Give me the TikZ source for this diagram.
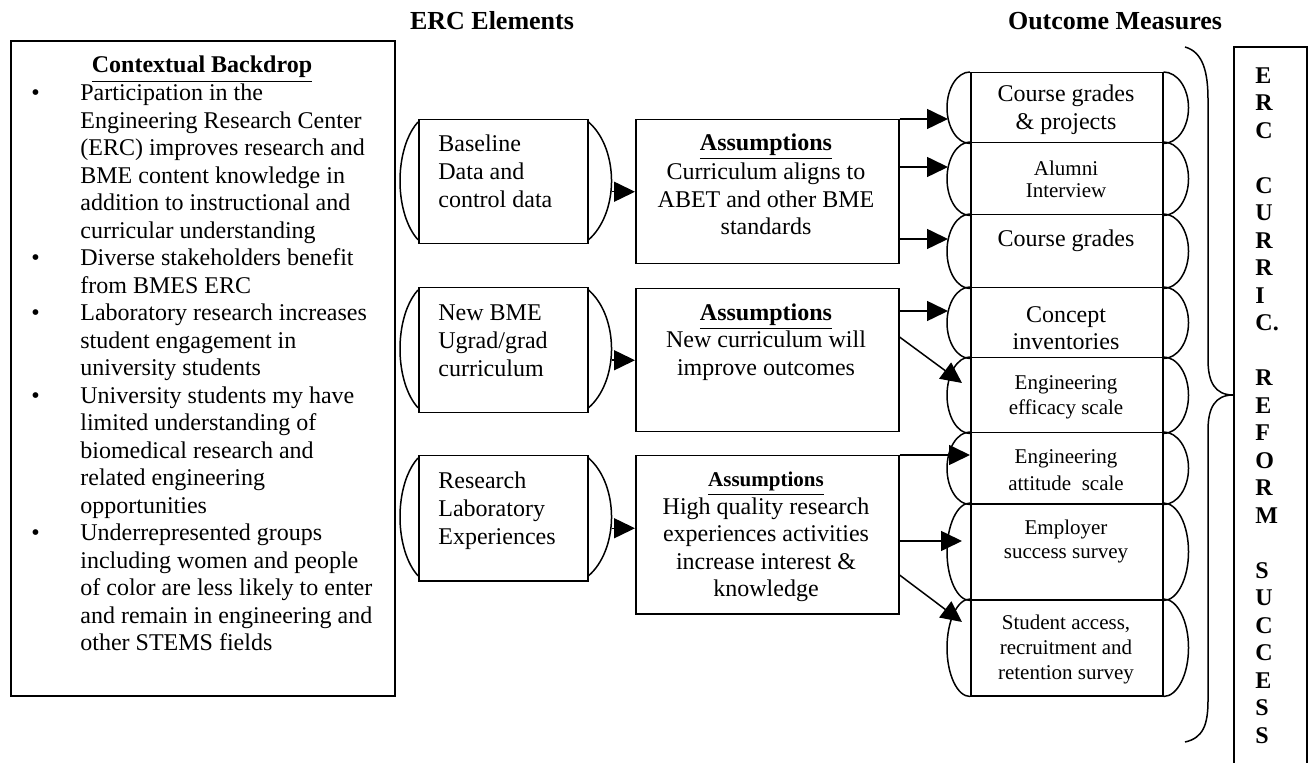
\documentclass[tikz,border=0pt]{standalone}
\usepackage{fontspec}
\setmainfont{Liberation Serif}
\usetikzlibrary{arrows.meta,calc}
\newcommand{\fntbig}{\fontsize{12}{13.75}\selectfont}
\newcommand{\fntsml}{\fontsize{10.5}{12.5}\selectfont}
\begin{document}
\begin{tikzpicture}[x=0.5pt,y=-0.5pt,
  boxline/.style={draw, line width=0.75pt},
  rectbox/.style={boxline, inner sep=0pt, anchor=north west},
  arr/.style={line width=0.75pt, -{Triangle[length=10.5pt,width=10pt]}},
  arcline/.style={line width=0.75pt},
  head/.style={font=\fontsize{13}{15}\bfseries\selectfont, anchor=base},
  bigtxt/.style={font=\fntbig, inner sep=0pt},
  smltxt/.style={font=\fntsml, inner sep=0pt, align=center}
]
\useasboundingbox (0,0) rectangle (1309,763);

% headers
\node[head] (hERC) at (492,30) {ERC Elements};
\node[head] (hOUT) at (1115,30) {Outcome Measures};

% contextual backdrop
\node[rectbox, line width=1.2pt, minimum width=192pt, minimum height=327.5pt] (ctx) at (10,40) {};
\node[font=\fntbig\bfseries, anchor=base] (ctxtitle) at (202,73) {\underline{Contextual Backdrop}};
\node[anchor=north west, inner sep=0pt, font=\fntbig] (ctxlist) at (31,81) {%
\begin{tabular}{@{}p{24.5pt}@{}l@{}}
\textbullet & Participation in the\\
 & Engineering Research Center\\
 & (ERC) improves research and\\
 & BME content knowledge in\\
 & addition to instructional and\\
 & curricular understanding\\
\textbullet & Diverse stakeholders benefit\\
 & from BMES ERC\\
\textbullet & Laboratory research increases\\
 & student engagement in\\
 & university students\\
\textbullet & University students my have\\
 & limited understanding of\\
 & biomedical research and\\
 & related engineering\\
 & opportunities\\
\textbullet & Underrepresented groups\\
 & including women and people\\
 & of color are less likely to enter\\
 & and remain in engineering and\\
 & other STEMS fields
\end{tabular}};

% ERC elements
\node[rectbox, minimum width=84.5pt, minimum height=62pt] (e1) at (418,119) {};
\node[rectbox, minimum width=84.5pt, minimum height=62.5pt] (e2) at (418,287) {};
\node[rectbox, minimum width=84.5pt, minimum height=62.5pt] (e3) at (418,455) {};
\foreach \e in {e1,e2,e3}{
  \draw[arcline] ([yshift=-1.5pt]\e.north west) arc[start angle=120, end angle=240, x radius=18pt, y radius=34pt];
  \draw[arcline] ([yshift=-1.5pt]\e.north east) arc[start angle=60, end angle=-60, x radius=23pt, y radius=34pt];
}
\node[bigtxt, anchor=north west, align=left, font=\fontsize{12}{14}\selectfont] (e1t) at (438,134) {Baseline\\Data and\\control data};
\node[bigtxt, anchor=north west, align=left, font=\fontsize{12}{14}\selectfont] (e2t) at (438,304) {New BME\\Ugrad/grad\\curriculum};
\node[bigtxt, anchor=north west, align=left, font=\fontsize{12}{14}\selectfont] (e3t) at (438,471) {Research\\Laboratory\\Experiences};

% assumptions
\node[rectbox, minimum width=131.5pt, minimum height=72pt] (a1) at (635,119) {};
\node[rectbox, minimum width=131.5pt, minimum height=71.5pt] (a2) at (635,288) {};
\node[rectbox, minimum width=131.5pt, minimum height=79pt] (a3) at (635,455) {};
\node[bigtxt, anchor=north, align=center] (a1t) at (766,133) {\textbf{\underline{Assumptions}}\\[1pt]Curriculum aligns to\\ABET and other BME\\standards};
\node[bigtxt, anchor=north, align=center] (a2t) at (766,303) {\textbf{\underline{Assumptions}}\\[0pt]New curriculum will\\improve outcomes};
\node[bigtxt, anchor=north, align=center] (a3t) at (766,472) {{\fontsize{10.5}{12}\selectfont\textbf{\underline{Assumptions}}}\\High quality research\\experiences activities\\increase interest \&\\knowledge};

% outcome boxes
\node[rectbox, minimum width=96pt, minimum height=35pt] (o1) at (970,72) {};
\node[rectbox, minimum width=96pt, minimum height=36pt] (o2) at (970,142) {};
\node[rectbox, minimum width=96pt, minimum height=36.5pt] (o3) at (970,214) {};
\node[rectbox, minimum width=96pt, minimum height=35pt] (o4) at (970,287) {};
\node[rectbox, minimum width=96pt, minimum height=37.5pt] (o5) at (970,357) {};
\node[rectbox, minimum width=96pt, minimum height=35.5pt] (o6) at (970,432) {};
\node[rectbox, minimum width=96pt, minimum height=48pt] (o7) at (970,503) {};
\node[rectbox, minimum width=96pt, minimum height=48pt] (o8) at (970,599) {};
\foreach \o in {o1,o2,o3,o4,o5,o6,o7,o8}{
  \draw[arcline] let \p1=(\o.north west), \p2=(\o.south west) in
    (\p1) arc[start angle=90, end angle=270, x radius=11.5pt, y radius={(\y1-\y2)/2}];
  \draw[arcline] let \p1=(\o.north east), \p2=(\o.south east) in
    (\p1) arc[start angle=90, end angle=-90, x radius=12.5pt, y radius={(\y1-\y2)/2}];
}
\node[bigtxt, align=center, font=\fontsize{12}{14}\selectfont] (o1t) at (1066,110) {Course grades\\\& projects};
\node[smltxt, font=\fontsize{10.5}{11}\selectfont] (o2t) at (1066,179) {Alumni\\Interview};
\node[bigtxt] (o3t) at (1066,241) {Course grades};
\node[bigtxt, align=center, font=\fontsize{12}{13.5}\selectfont] (o4t) at (1066,328) {Concept\\inventories};
\node[smltxt] (o5t) at (1066,397) {Engineering\\efficacy scale};
\node[smltxt, font=\fontsize{10.5}{13.5}\selectfont] (o6t) at (1066,470) {Engineering\\attitude\ \ scale};
\node[smltxt, font=\fontsize{10.5}{12}\selectfont] (o7t) at (1066,541) {Employer\\success survey};
\node[smltxt] (o8t) at (1066,649) {Student access,\\recruitment and\\retention survey};

% arrows ERC -> assumptions
\foreach \e/\a in {e1/a1,e2/a2,e3/a3}{
  \coordinate (\e r) at ([xshift=11.5pt,yshift=-5pt]\e.east);
  \draw[arr] (\e r) -- (\e r -| \a.west);
}

% arrows assumptions -> outcomes
\coordinate (s1) at (a1.north east);
\coordinate (s2) at ([yshift=-24pt]a1.north east);
\coordinate (s3) at ([yshift=-60pt]a1.north east);
\coordinate (s4) at ([yshift=-11.5pt]a2.north east);
\coordinate (s5) at ([yshift=-24.5pt]a2.north east);
\coordinate (s6) at (a3.north east);
\coordinate (s7) at ([yshift=-43pt]a3.north east);
\coordinate (s8) at ([yshift=-60pt]a3.north east);
\draw[arr] (s1) -- ([xshift=-11pt]s1 -| o1.west);
\draw[arr] (s2) -- ([xshift=-11pt]s2 -| o2.west);
\draw[arr] (s3) -- ([xshift=-11pt]s3 -| o3.west);
\draw[arr] (s4) -- ([xshift=-11pt]s4 -| o4.west);
\draw[arr] (s5) -- ([xshift=-4pt,yshift=-13pt]o5.north west);
\draw[arr] (s6) -- (s6 -| o6.west);
\draw[arr] (s7) -- ([xshift=-4pt]s7 -| o7.west);
\draw[arr] (s8) -- ([xshift=-4pt,yshift=-11.5pt]o8.north west);

% brace
\coordinate (btop) at (1185,47);
\coordinate (btip) at (1233,395);
\coordinate (bbot) at (1185,742);
\draw[arcline] (btop) .. controls (1203,52) and (1208,72) .. (1208,100) -- (1208,360)
  .. controls (1208,382) and (1215,395) .. (btip)
  .. controls (1215,395) and (1208,408) .. (1208,430) -- (1208,700)
  .. controls (1208,725) and (1203,738) .. (bbot);

% right vertical box
\coordinate (rbl) at (1234,763);
\coordinate (rbr) at (1307,763);
\draw[line width=0.75pt] (rbl) -- (1234,47) -- (1307,47) -- (rbr);
\node[anchor=north west, inner sep=0pt, align=left, font=\fontsize{12}{13.75}\bfseries\selectfont] (rtxt) at (1255,67)
 {E\\R\\C\\\mbox{}\\C\\U\\R\\R\\I\\C.\\\mbox{}\\R\\E\\F\\O\\R\\M\\\mbox{}\\S\\U\\C\\C\\E\\S\\S};
\end{tikzpicture}
\end{document}
